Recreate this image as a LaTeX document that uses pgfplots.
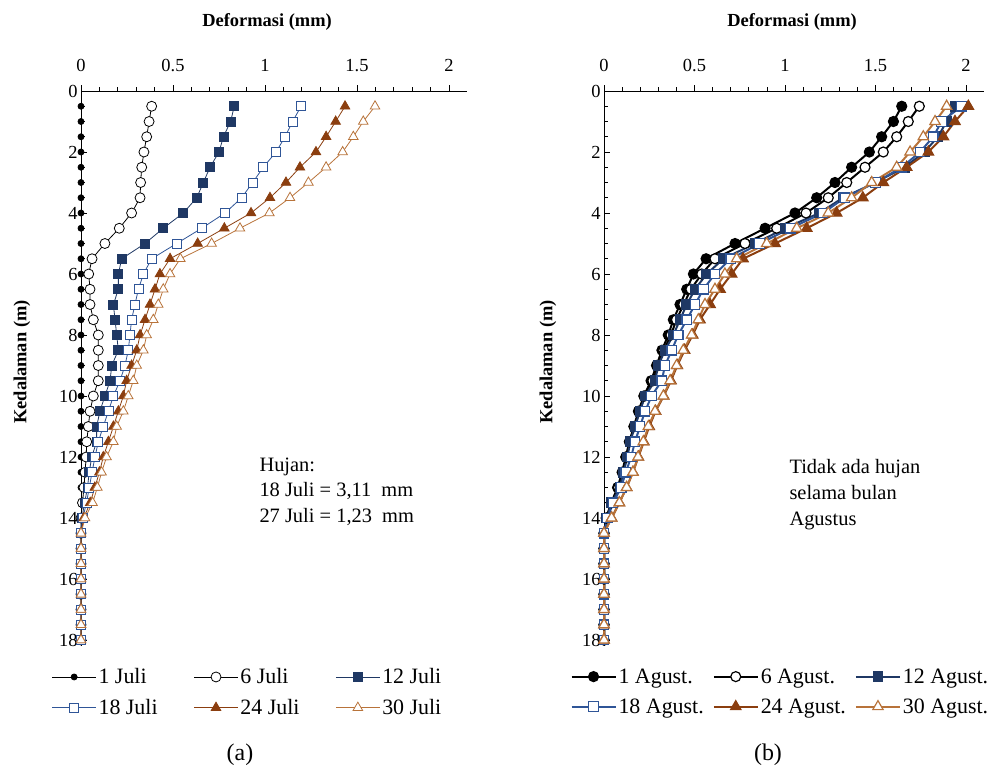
\documentclass[border=0pt]{standalone}
\usepackage{pgfplots}
\pgfplotsset{compat=1.18}
\usepackage{pgfplotstable}
\usepackage{fontspec}
\setmainfont{Liberation Serif}
\definecolor{cNavy}{HTML}{1F3864}
\definecolor{cBlue}{HTML}{2F5597}
\definecolor{cBrown}{HTML}{8B3E0F}
\definecolor{cTan}{HTML}{B8733A}

\pgfplotstableread{
d    j1  j6     j12    j18    j24    j30
0.5  0   0.384  0.833  1.196  1.435  1.598
1.0  0   0.370  0.813  1.150  1.384  1.534
1.5  0   0.357  0.774  1.109  1.332  1.480
2.0  0   0.342  0.750  1.060  1.277  1.422
2.5  0   0.330  0.701  0.991  1.190  1.332
3.0  0   0.324  0.665  0.933  1.114  1.236
3.5  0   0.321  0.629  0.873  1.027  1.136
4.0  0   0.275  0.556  0.783  0.924  1.024
4.5  0   0.208  0.447  0.656  0.779  0.864
5.0  0   0.130  0.348  0.520  0.634  0.710
5.5  0   0.060  0.221  0.384  0.484  0.540
6.0  0   0.042  0.203  0.339  0.429  0.484
6.5  0   0.049  0.203  0.312  0.402  0.447
7.0  0   0.049  0.176  0.293  0.375  0.420
7.5  0   0.067  0.185  0.275  0.348  0.393
8.0  0   0.094  0.194  0.266  0.321  0.357
8.5  0   0.094  0.203  0.257  0.303  0.339
9.0  0   0.094  0.167  0.239  0.275  0.303
9.5  0   0.094  0.158  0.212  0.248  0.284
10.0 0   0.067  0.130  0.176  0.230  0.257
10.5 0   0.049  0.103  0.149  0.203  0.230
11.0 0   0.040  0.085  0.121  0.176  0.194
11.5 0   0.031  0.085  0.094  0.149  0.176
12.0 0   0.028  0.058  0.076  0.121  0.139
12.5 0   0.022  0.045  0.060  0.100  0.112
13.0 0   0.016  0.035  0.045  0.075  0.089
13.5 0   0.008  0.020  0.030  0.050  0.063
14.0 0   0      0.005  0.010  0.015  0.022
14.5 0   0      0      0      0      0
15.0 0   0      0      0      0      0
15.5 0   0      0      0      0      0
16.0 0   0      0      0      0      0
16.5 0   0      0      0      0      0
17.0 0   0      0      0      0      0
17.5 0   0      0      0      0      0
18.0 0   0      0      0      0      0
}\tableJuli

\pgfplotstableread{
d    a1     a6     a12    a18    a24    a30
0.5  1.645  1.742  1.939  1.976  2.013  1.893
1.0  1.599  1.681  1.893  1.865  1.939  1.829
1.5  1.534  1.617  1.845  1.819  1.875  1.764
2.0  1.466  1.543  1.770  1.746  1.792  1.691
2.5  1.368  1.442  1.660  1.645  1.672  1.617
3.0  1.276  1.341  1.500  1.500  1.543  1.479
3.5  1.175  1.239  1.320  1.330  1.430  1.368
4.0  1.055  1.116  1.190  1.210  1.285  1.239
4.5  0.890  0.954  1.000  1.030  1.120  1.065
5.0  0.724  0.779  0.834  0.860  0.945  0.899
5.5  0.564  0.613  0.660  0.700  0.768  0.733
6.0  0.494  0.540  0.567  0.613  0.705  0.668
6.5  0.457  0.480  0.503  0.549  0.641  0.613
7.0  0.420  0.440  0.457  0.503  0.586  0.558
7.5  0.383  0.400  0.420  0.457  0.530  0.521
8.0  0.355  0.370  0.383  0.410  0.490  0.484
8.5  0.320  0.330  0.337  0.374  0.445  0.438
9.0  0.290  0.300  0.300  0.337  0.405  0.401
9.5  0.260  0.270  0.282  0.319  0.370  0.365
10.0 0.220  0.225  0.227  0.263  0.330  0.328
10.5 0.190  0.195  0.199  0.227  0.285  0.282
11.0 0.165  0.168  0.171  0.199  0.250  0.245
11.5 0.140  0.142  0.144  0.171  0.220  0.217
12.0 0.120  0.125  0.130  0.150  0.190  0.188
12.5 0.100  0.103  0.107  0.120  0.160  0.160
13.0 0.075  0.080  0.088  0.095  0.125  0.125
13.5 0.040  0.042  0.042  0.050  0.085  0.085
14.0 0.012  0.014  0.015  0.020  0.042  0.042
14.5 0      0      0      0      0      0
15.0 0      0      0      0      0      0
15.5 0      0      0      0      0      0
16.0 0      0      0      0      0      0
16.5 0      0      0      0      0      0
17.0 0      0      0      0      0      0
17.5 0      0      0      0      0      0
18.0 0      0      0      0      0      0
}\tableAgust

\pgfplotsset{
  myaxis/.style={
    y=30.5bp, y dir=reverse,
    xmin=0, xmax=2.1, ymin=0, ymax=18.2,
    axis x line=top, axis y line=left,
    axis line style={-, line width=0.8pt},
    xtick={0,0.5,1,1.5,2}, xticklabels={0,0.5,1,1.5,2},
    ytick={0,2,...,18},
    minor x tick num=4, minor y tick num=3,
    xtick align=outside, ytick align=inside,
    major tick length=6bp, minor tick length=4bp,
    tick style={black, line width=0.8pt},
    tick label style={font=\fontsize{18.5}{20}\selectfont},
    /pgf/number format/assume math mode=true,
    clip=false,
    anchor=north west,
    legend columns=3,
    legend cell align=left,
    legend image code/.code={\draw[mark repeat=2,mark phase=2,##1] plot coordinates {(0bp,0bp) (22bp,0bp) (44bp,0bp)};},
  }
}

\begin{document}
\begin{tikzpicture}
\path[use as bounding box] (0bp,0bp) rectangle (999bp,-773bp);

% ---------------- (a) ----------------
\begin{axis}[myaxis, at={(81bp,-91bp)}, x=184bp,
  xticklabel style={yshift=10bp},
  legend style={at={(axis description cs:0.431,-0.033)}, anchor=north,
    draw=none, fill=none, font=\fontsize{22}{24}\selectfont,
    /tikz/every even column/.append style={column sep=34bp}, row sep=10bp}]
\addplot[black, line width=0.8pt, mark=*, mark size=3bp] table[x=j1, y=d] {\tableJuli};
\addlegendentry{1 Juli}
\addplot[black, line width=0.8pt, mark=*, mark size=5bp, mark options={fill=white}] table[x=j6, y=d] {\tableJuli};
\addlegendentry{6 Juli}
\addplot[cNavy, line width=0.8pt, mark=square*, mark size=4.5bp] table[x=j12, y=d] {\tableJuli};
\addlegendentry{12 Juli}
\addplot[cBlue, line width=0.8pt, mark=square*, mark size=4.5bp, mark options={fill=white}] table[x=j18, y=d] {\tableJuli};
\addlegendentry{18 Juli}
\addplot[cBrown, line width=0.8pt, mark=triangle*, mark size=5.5bp] table[x=j24, y=d] {\tableJuli};
\addlegendentry{24 Juli}
\addplot[cTan, line width=0.8pt, mark=triangle*, mark size=5.5bp, mark options={fill=white}] table[x=j30, y=d] {\tableJuli};
\addlegendentry{30 Juli}
\end{axis}

% ---------------- (b) ----------------
\begin{axis}[myaxis, at={(604bp,-91bp)}, x=181bp,
  xticklabel style={yshift=10bp},
  legend style={at={(axis description cs:0.464,-0.033)}, anchor=north,
    draw=none, fill=none, font=\fontsize{22}{24}\selectfont,
    /tikz/every even column/.append style={column sep=7bp}, row sep=10bp}]
\addplot[black, line width=2pt, mark=*, mark size=5bp, mark options={line width=1.2pt}] table[x=a1, y=d] {\tableAgust};
\addlegendentry{1 Agust.}
\addplot[black, line width=2pt, mark=*, mark size=5bp, mark options={fill=white, line width=1.2pt}] table[x=a6, y=d] {\tableAgust};
\addlegendentry{6 Agust.}
\addplot[cNavy, line width=2pt, mark=square*, mark size=4.8bp, mark options={line width=1.2pt}] table[x=a12, y=d] {\tableAgust};
\addlegendentry{12 Agust.}
\addplot[cBlue, line width=2pt, mark=square*, mark size=4.8bp, mark options={fill=white, line width=1.2pt}] table[x=a18, y=d] {\tableAgust};
\addlegendentry{18 Agust.}
\addplot[cBrown, line width=2pt, mark=triangle*, mark size=6bp, mark options={line width=1.2pt}] table[x=a24, y=d] {\tableAgust};
\addlegendentry{24 Agust.}
\addplot[cTan, line width=2pt, mark=triangle*, mark size=6bp, mark options={fill=white, line width=1.2pt}] table[x=a30, y=d] {\tableAgust};
\addlegendentry{30 Agust.}
\end{axis}

% axis titles and notes
\node[font=\fontsize{18.5}{20}\selectfont\bfseries] at (267bp,-22bp) {Deformasi (mm)};
\node[font=\fontsize{18.5}{20}\selectfont\bfseries] at (792bp,-22bp) {Deformasi (mm)};
\node[font=\fontsize{18.5}{20}\selectfont\bfseries, rotate=90] at (22bp,-362bp) {Kedalaman (m)};
\node[font=\fontsize{18.5}{20}\selectfont\bfseries, rotate=90] at (548bp,-362bp) {Kedalaman (m)};
\node[font=\fontsize{20.5}{26}\selectfont, align=left, anchor=north west] at (256bp,-454bp) {Hujan:\\18 Juli = 3,11\ \ mm\\27 Juli = 1,23\ \ mm};
\node[font=\fontsize{20.5}{26}\selectfont, align=left, anchor=north west] at (786bp,-456bp) {Tidak ada hujan\\selama bulan\\Agustus};
\node[font=\fontsize{24}{26}\selectfont] at (240bp,-755bp) {(a)};
\node[font=\fontsize{24}{26}\selectfont] at (768bp,-755bp) {(b)};
\end{tikzpicture}
\end{document}
